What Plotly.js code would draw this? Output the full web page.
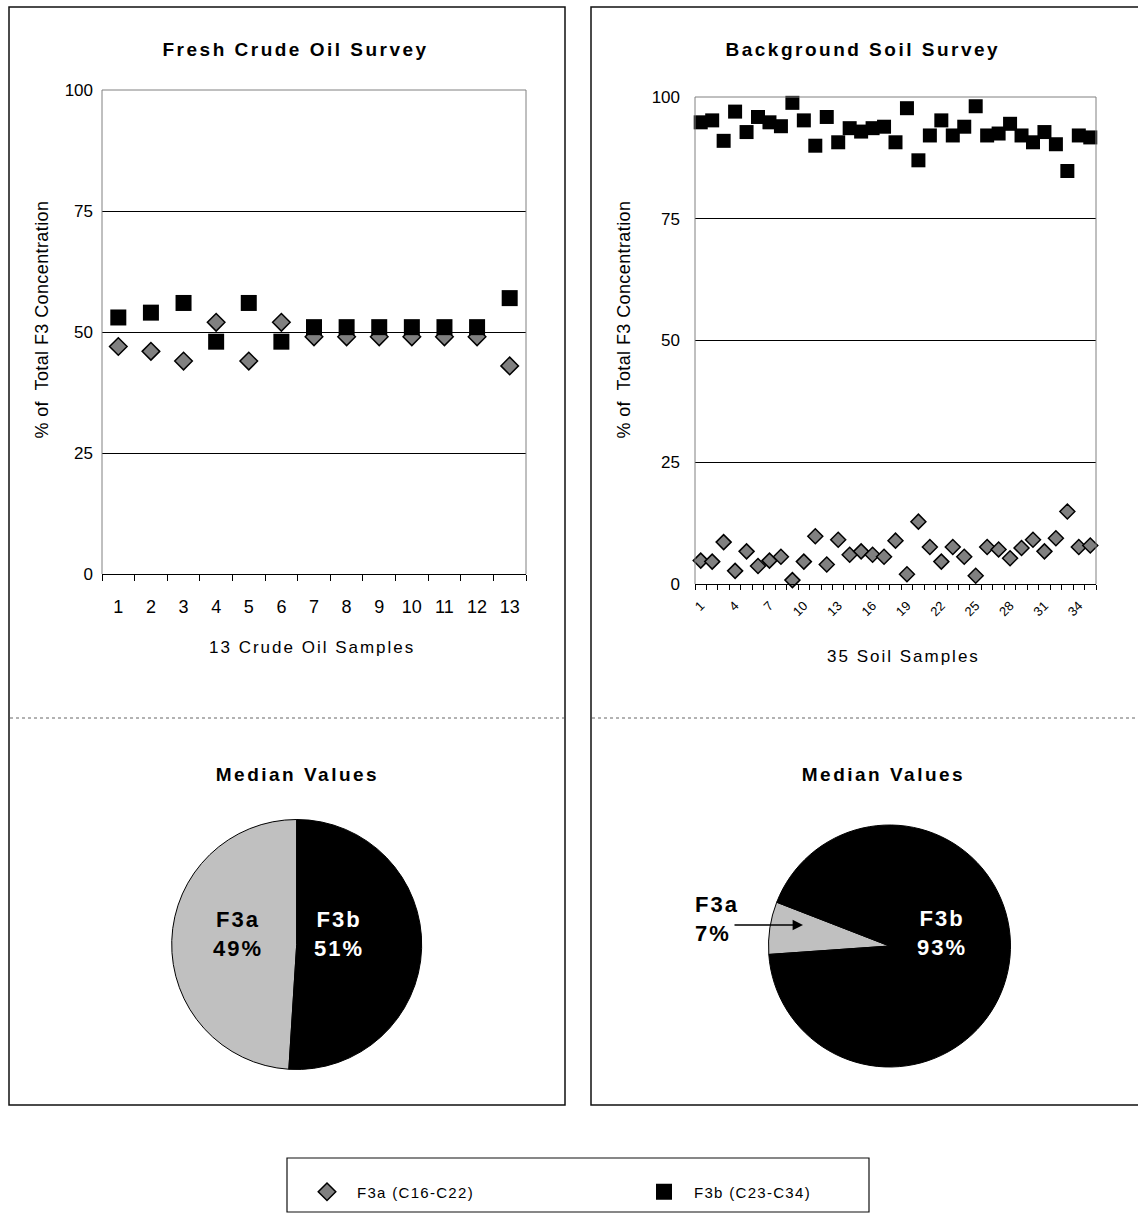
<!DOCTYPE html>
<html>
<head>
<meta charset="utf-8">
<script src="https://cdn.plot.ly/plotly-3.0.1.min.js"></script>
<style>body{margin:0;background:#fff;}</style>
</head>
<body>
<div id="chart" style="width:1138px;height:1222px;"></div>
<script>
// ---------- data ----------
const seriesNames = ['F3a (C16-C22)', 'F3b (C23-C34)'];
const crudeSamples = [1,2,3,4,5,6,7,8,9,10,11,12,13];
const crudeF3a = [47,46,44,52,44,52,49,49,49,49,49,49,43];
const crudeF3b = [53,54,56,48,56,48,51,51,51,51,51,51,57];
const soilSamples = [1,2,3,4,5,6,7,8,9,10,11,12,13,14,15,16,17,18,19,20,21,22,23,24,25,26,27,28,29,30,31,32,33,34,35];
const soilF3a = [4.8,4.6,8.6,2.7,6.7,3.7,4.8,5.6,0.8,4.6,9.8,4.0,9.1,6.0,6.7,6.0,5.6,8.9,2.0,12.8,7.6,4.6,7.6,5.6,1.7,7.6,7.1,5.3,7.4,9.1,6.7,9.4,14.9,7.6,7.9];
const soilF3b = [94.8,95.2,91.0,97.0,92.8,95.9,94.8,94.0,98.8,95.2,90.0,95.9,90.7,93.6,92.9,93.6,93.9,90.7,97.7,87.0,92.1,95.2,92.1,93.9,98.1,92.1,92.5,94.5,92.1,90.7,92.8,90.3,84.8,92.1,91.7];
const soilTickVals = [1,4,7,10,13,16,19,22,25,28,31,34];
const yTickVals = [0,25,50,75,100];
const pieLabels = ['F3a', 'F3b'];
const crudeMedian = [49, 51];
const soilMedian = [7, 93];
const texts = {
  crudeTitle: 'Fresh Crude Oil Survey',
  soilTitle: 'Background Soil Survey',
  pieTitle: 'Median Values',
  crudeX: '13 Crude Oil Samples',
  soilX: '35 Soil Samples',
  yTitle: '% of  Total F3 Concentration'
};

// ---------- helpers ----------
const W = 1138, H = 1222;
const FONT = 'Liberation Sans, Arial, sans-serif';
const px = x => x / W;
const py = y => 1 - y / H;

const diamondMarker = (size) => ({symbol:'diamond', size:size, color:'#808080', line:{color:'#000', width:1.5}});
const squareMarker = (size) => ({symbol:'square', size:size, color:'#000', line:{color:'#000', width:0}});

const traces = [
  {type:'scatter', mode:'markers', x:crudeSamples, y:crudeF3a, name:seriesNames[0], xaxis:'x', yaxis:'y',
   marker:diamondMarker(13.5), cliponaxis:false, hoverinfo:'skip', showlegend:true, legendrank:1},
  {type:'scatter', mode:'markers', x:crudeSamples, y:crudeF3b, name:seriesNames[1], xaxis:'x', yaxis:'y',
   marker:squareMarker(16), cliponaxis:false, hoverinfo:'skip', showlegend:true, legendrank:2},
  {type:'scatter', mode:'markers', x:soilSamples, y:soilF3a, name:seriesNames[0], xaxis:'x2', yaxis:'y2',
   marker:diamondMarker(11.5), cliponaxis:false, hoverinfo:'skip', showlegend:false},
  {type:'scatter', mode:'markers', x:soilSamples, y:soilF3b, name:seriesNames[1], xaxis:'x2', yaxis:'y2',
   marker:squareMarker(14), cliponaxis:false, hoverinfo:'skip', showlegend:false},
  {type:'pie', labels:pieLabels, values:crudeMedian, sort:false, direction:'clockwise',
   rotation:360*crudeMedian[1]/100, textinfo:'none', hoverinfo:'skip', showlegend:false,
   marker:{colors:['#c0c0c0','#000000'], line:{color:'#000', width:1}},
   domain:{x:[px(171.7), px(421.7)], y:[py(1069.5), py(819.5)]}},
  {type:'pie', labels:pieLabels, values:soilMedian, sort:false, direction:'clockwise',
   rotation:266, textinfo:'none', hoverinfo:'skip', showlegend:false,
   marker:{colors:['#c0c0c0','#000000'], line:{color:'#000', width:1}},
   domain:{x:[px(768.5), px(1010.5)], y:[py(1067), py(825)]}}
];

const tickFont = {family:FONT, size:17, color:'#000'};

const baseY = {
  range:[0,100], tickvals:yTickVals, showgrid:true, gridcolor:'#000', gridwidth:1,
  zeroline:false, showline:false, ticks:'', tickfont:tickFont, ticklabelstandoff:8, fixedrange:true
};

const layout = {
  width:W, height:H, margin:{l:0,r:0,t:0,b:0},
  paper_bgcolor:'#fff', plot_bgcolor:'#fff',
  font:{family:FONT, color:'#000'},
  showlegend:true,
  legend:{orientation:'h', x:px(297), y:py(1192), xanchor:'left', yanchor:'middle',
          bgcolor:'rgba(0,0,0,0)', borderwidth:0, font:{family:FONT, size:15, color:'#000'},
          itemwidth:50, entrywidthmode:'pixels', entrywidth:272, itemclick:false, itemdoubleclick:false},
  xaxis:{domain:[px(102), px(526)], anchor:'y', range:[0.5,13.5], tickmode:'linear', tick0:1, dtick:1,
         ticks:'', showgrid:false, zeroline:false, showline:true, linecolor:'#000', linewidth:1,
         tickfont:{family:FONT, size:18, color:'#000'}, ticklabelstandoff:16,
         minor:{ticks:'outside', tick0:0.5, dtick:1, ticklen:6, tickcolor:'#000', tickwidth:1, showgrid:false},
         fixedrange:true},
  yaxis:Object.assign({}, baseY, {domain:[py(574), py(90)], anchor:'x'}),
  xaxis2:{domain:[px(695), px(1096)], anchor:'y2', range:[0.5,35.5], tickvals:soilTickVals,
          ticks:'', showgrid:false, zeroline:false, showline:true, linecolor:'#000', linewidth:1,
          tickangle:-45, tickfont:{family:FONT, size:13, color:'#000'}, ticklabelstandoff:8,
          minor:{ticks:'outside', tick0:0.5, dtick:1, ticklen:5, tickcolor:'#000', tickwidth:1, showgrid:false},
          fixedrange:true},
  yaxis2:Object.assign({}, baseY, {domain:[py(584), py(97)], anchor:'x2', ticklabelstandoff:14}),
  shapes:[],
  annotations:[]
};

// frames & panels (paper / domain references)
const frameLine = {color:'#808080', width:1};
[['x','y'],['x2','y2']].forEach(([xa,ya]) => {
  layout.shapes.push({type:'line', xref:xa+' domain', yref:ya+' domain', x0:0, x1:1, y0:1, y1:1, line:frameLine, layer:'above'});
  layout.shapes.push({type:'line', xref:xa+' domain', yref:ya+' domain', x0:0, x1:0, y0:0, y1:1, line:frameLine, layer:'above'});
  layout.shapes.push({type:'line', xref:xa+' domain', yref:ya+' domain', x0:1, x1:1, y0:0, y1:1, line:frameLine, layer:'above'});
});
layout.shapes.push({type:'rect', xref:'paper', yref:'paper', x0:px(9), x1:px(565), y0:py(1105), y1:py(7), line:{color:'#111', width:1.5}, layer:'below'});
layout.shapes.push({type:'rect', xref:'paper', yref:'paper', x0:px(591), x1:px(1145), y0:py(1105), y1:py(7), line:{color:'#111', width:1.5}, layer:'below'});
layout.shapes.push({type:'line', xref:'paper', yref:'paper', x0:px(10), x1:px(564), y0:py(718), y1:py(718), line:{color:'#666', width:1, dash:'dot'}});
layout.shapes.push({type:'line', xref:'paper', yref:'paper', x0:px(592), x1:px(1138), y0:py(718), y1:py(718), line:{color:'#666', width:1, dash:'dot'}});
layout.shapes.push({type:'rect', xref:'paper', yref:'paper', x0:px(287), x1:px(869), y0:py(1212), y1:py(1158), line:{color:'#111', width:1.2}, layer:'below'});

// annotations
const spacing = [];
function ann(text, x, y, opts, ls) {
  layout.annotations.push(Object.assign({text:text, xref:'paper', yref:'paper', x:px(x), y:py(y),
    xanchor:'center', yanchor:'middle', showarrow:false}, opts));
  spacing.push(ls || 0);
}
const titleFont = {family:FONT, size:19, color:'#000'};
ann('<b>'+texts.crudeTitle+'</b>', 296, 50, {font:titleFont}, 2.5);
ann('<b>'+texts.soilTitle+'</b>', 863, 50, {font:titleFont}, 2.5);
ann('<b>'+texts.pieTitle+'</b>', 297, 774, {font:titleFont}, 2.5);
ann('<b>'+texts.pieTitle+'</b>', 883, 774, {font:titleFont}, 2.5);
ann(texts.crudeX, 312, 647, {font:{family:FONT, size:17, color:'#000'}}, 2);
ann(texts.soilX, 903, 656, {font:{family:FONT, size:17, color:'#000'}}, 2);
ann(texts.yTitle, 42, 320, {font:{family:FONT, size:18, color:'#000'}, textangle:-90}, 0.4);
ann(texts.yTitle, 624, 320, {font:{family:FONT, size:18, color:'#000'}, textangle:-90}, 0.4);

const pieFont = (c) => ({family:FONT, size:22, color:c});
const pctLabel = (i, vals) => '<b>'+pieLabels[i]+'<br>'+vals[i]+'%</b>';
ann(pctLabel(0, crudeMedian), 238.5, 934, {font:pieFont('#000')}, 2);
ann(pctLabel(1, crudeMedian), 339, 934, {font:pieFont('#fff')}, 2);
ann(pctLabel(1, soilMedian), 941.5, 933, {font:pieFont('#fff')}, 2);
ann(pctLabel(0, soilMedian), 693, 919, {font:pieFont('#000'), xanchor:'left', align:'left'}, 2);
// arrow
layout.annotations.push({text:'', xref:'paper', yref:'paper', x:px(803), y:py(925), showarrow:true,
  axref:'pixel', ayref:'pixel', ax:-70, ay:0, arrowhead:2, arrowsize:1.6, arrowwidth:1.3, arrowcolor:'#000', standoff:0});
spacing.push(0);

Plotly.newPlot('chart', traces, layout, {displayModeBar:false, staticPlot:true}).then(gd => {
  spacing.forEach((ls, i) => {
    if (!ls) return;
    const t = gd.querySelector('g.annotation[data-index="'+i+'"] text.annotation-text');
    if (t) t.style.letterSpacing = ls + 'px';
  });
  gd.querySelectorAll('text.legendtext').forEach(t => { t.style.letterSpacing = '1.3px'; });
});
</script>
</body>
</html>
